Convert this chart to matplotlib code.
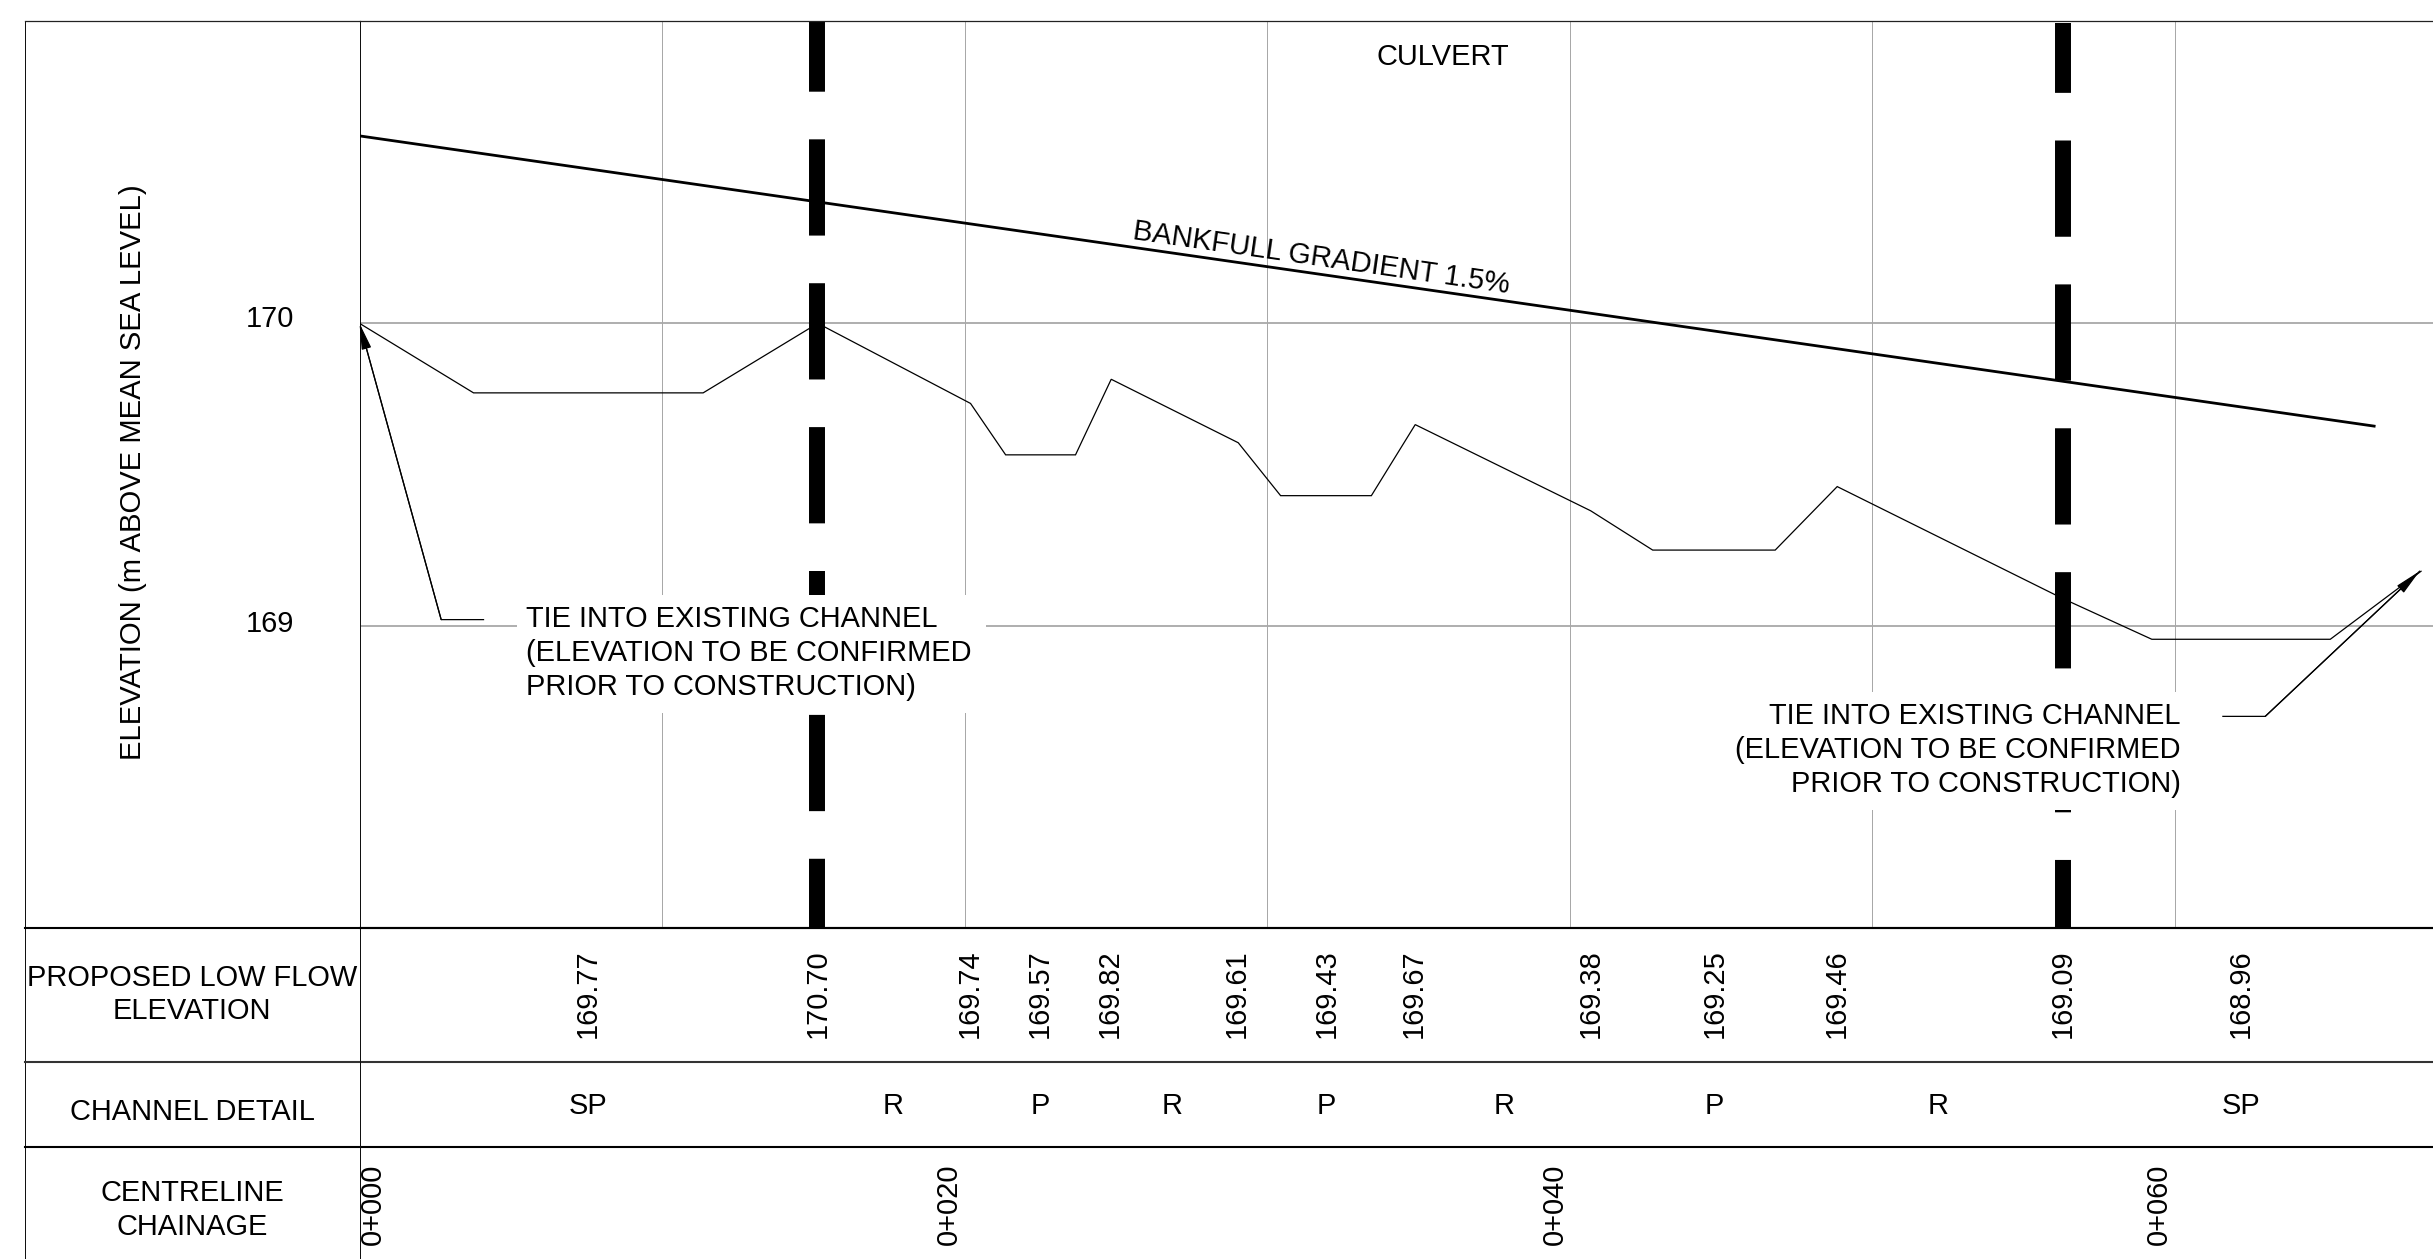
import matplotlib
matplotlib.use("Agg")
import matplotlib.pyplot as plt
from matplotlib.patches import Rectangle
from matplotlib.transforms import ScaledTranslation

plt.rcParams['font.family'] = ['Liberation Sans', 'DejaVu Sans']
plt.rcParams['lines.scale_dashes'] = False

# ---- data ----
low_flow_chain = [0, 3.77, 11.36, 15.15, 20.2, 21.36, 23.67, 24.85, 29.05, 30.45, 33.45,
                  34.9, 40.7, 42.75, 46.8, 48.85, 56.3, 59.25, 65.15, 68.15]
low_flow_elev = [170.0, 169.77, 169.77, 170.0, 169.735, 169.565, 169.565, 169.815, 169.605, 169.43, 169.43,
                 169.665, 169.38, 169.25, 169.25, 169.46, 169.09, 168.955, 168.955, 169.18]
bankfull_chain = [0, 66.6]
bankfull_elev = [170.62, 169.66]
culvert_chain = [15.12, 56.3]
culvert_top = [171.0, 170.992]
culvert_offset = [18.4, 19.0]
elev_label_chain = [7.56, 15.15, 20.18, 22.49, 24.8, 29.0, 31.97, 34.85, 40.7, 44.8, 48.85, 56.3, 62.2]
elev_labels = ['169.77', '170.70', '169.74', '169.57', '169.82', '169.61', '169.43', '169.67',
               '169.38', '169.25', '169.46', '169.09', '168.96']
detail_chain = [7.56, 17.65, 22.49, 26.85, 31.97, 37.85, 44.8, 52.2, 62.2]
detail_labels = ['SP', 'R', 'P', 'R', 'P', 'R', 'P', 'R', 'SP']
station_chain = [0.45, 19.5, 39.5, 59.5]
station_labels = ['0+000', '0+020', '0+040', '0+060']
grid_chain = [10, 20, 30, 40, 50, 60]
elev_ticks = [169, 170]
elev_tick_lift = [3.4, 5.6]
tie_left_chain = [4.1, 2.7, 0]
tie_left_elev = [169.02, 169.02, 170.0]
tie_right_chain = [61.6, 63.0, 68.1]
tie_right_elev = [168.70, 168.70, 169.18]
tie_text = 'TIE INTO EXISTING CHANNEL\n(ELEVATION TO BE CONFIRMED\nPRIOR TO CONSTRUCTION)'

W, H = 2433, 1259
FS = 20.85
GREY = '#a8a8a8'
fig = plt.figure(figsize=(W / 100, H / 100), dpi=100, facecolor='white')

# pixel-space layer for the frame and the row headers
frame = fig.add_axes([0, 0, 1, 1], zorder=0)
frame.set_xlim(0, W)
frame.set_ylim(H, 0)
frame.axis('off')

# ---- main profile ----
ax = fig.add_axes([359.5 / W, (H - 928) / H, (W - 359.5) / W, (928 - 21) / H], zorder=2)
ax.patch.set_alpha(0)
ax.set_xlim(0, (W - 359.5) / 30.25)
ax.set_ylim(168, 171)
ax.set_xticks(grid_chain)
ax.set_xticklabels([])
ax.set_yticks(elev_ticks)
ax.set_yticklabels([str(v) for v in elev_ticks], fontsize=FS, color='black')
ax.tick_params(axis='both', length=0)
ax.tick_params(axis='y', pad=47)
for lab, lift in zip(ax.get_yticklabels(), elev_tick_lift):
    lab.set_transform(lab.get_transform() + ScaledTranslation(0, lift / 72, fig.dpi_scale_trans))
ax.grid(axis='x', color=GREY, lw=0.72, zorder=1)
ax.grid(axis='y', color=GREY, lw=1.3, zorder=1)
ax.set_axisbelow(True)
ax.spines['right'].set_visible(False)
ax.spines['top'].set_color('#222222')
ax.spines['top'].set_linewidth(0.9)
ax.spines['left'].set_color('#111111')
ax.spines['left'].set_linewidth(0.72)
ax.spines['bottom'].set_color('black')
ax.spines['bottom'].set_linewidth(1.5)

for cx, ct, off in zip(culvert_chain, culvert_top, culvert_offset):
    ax.plot([cx, cx], [ct, 168], color='black', lw=11.5, solid_capstyle='butt',
            dash_capstyle='butt', ls=(off, (69.3, 34.3)), zorder=2)

# white masks behind the notes
ax.add_patch(Rectangle((5.2, 168.71), 15.5, 0.39, facecolor='white', edgecolor='none', zorder=3))
ax.add_patch(Rectangle((45.2, 168.39), 16.2, 0.39, facecolor='white', edgecolor='none', zorder=3))

ax.plot(low_flow_chain, low_flow_elev, color='black', lw=0.9, zorder=4, solid_joinstyle='miter')
ax.plot(bankfull_chain, bankfull_elev, color='black', lw=2.0, zorder=4)

for cs, es in ((tie_left_chain, tie_left_elev), (tie_right_chain, tie_right_elev)):
    ax.plot(cs, es, color='black', lw=0.9, zorder=4, solid_joinstyle='miter')
    ax.annotate('', xy=(cs[-1], es[-1]), xytext=(cs[-2], es[-2]), zorder=5,
                arrowprops=dict(arrowstyle='-|>,head_length=1.6,head_width=0.3', mutation_scale=10,
                                shrinkA=0, shrinkB=0, lw=0.9, color='black'))

ax.text(5.49, 168.91, tie_text, fontsize=FS, ha='left', va='center', zorder=6, linespacing=1.27)
ax.text(60.2, 168.59, tie_text, fontsize=FS, ha='right', va='center', multialignment='right',
        zorder=6, linespacing=1.27)
ax.text(35.8, 170.882, 'CULVERT', fontsize=FS, ha='center', va='center', zorder=6)
ax.text(31.8, 170.215, 'BANKFULL GRADIENT 1.5%', fontsize=FS, ha='center', va='center',
        rotation=-8.2, rotation_mode='anchor', zorder=6)

# ---- table rows (y in pixels) ----
tab = fig.add_axes([359.5 / W, 0, (W - 359.5) / W, (H - 928) / H], zorder=1, sharex=ax)
tab.patch.set_alpha(0)
tab.set_ylim(H, 928)
tab.tick_params(axis='both', length=0, labelbottom=False, labelleft=False)
for side in ('top', 'right', 'bottom'):
    tab.spines[side].set_visible(False)
tab.spines['left'].set_color('#111111')
tab.spines['left'].set_linewidth(0.72)

for x, s in zip(elev_label_chain, elev_labels):
    tab.text(x, 994, s, fontsize=FS, rotation=90, ha='center', va='center')
for x, s in zip(detail_chain, detail_labels):
    tab.text(x, 1106, s, fontsize=FS, ha='center', va='center')
for x, s in zip(station_chain, station_labels):
    tab.text(x, 1204.5, s, fontsize=FS, rotation=90, ha='center', va='center')

# ---- frame + headers ----
frame.plot([25, 25], [21, H], color='#111111', lw=0.72)
frame.plot([25, 360], [21, 21], color='#222222', lw=0.9)
frame.plot([25, W], [928, 928], color='black', lw=1.5)
frame.plot([25, W], [1061.7, 1061.7], color='#333333', lw=1.5)
frame.plot([25, W], [1147.3, 1147.3], color='black', lw=1.5)
frame.text(192, 994.5, 'PROPOSED LOW FLOW\nELEVATION', fontsize=FS, ha='center', va='center', linespacing=1.27)
frame.text(192, 1112, 'CHANNEL DETAIL', fontsize=FS, ha='center', va='center')
frame.text(192, 1210, 'CENTRELINE\nCHAINAGE', fontsize=FS, ha='center', va='center', linespacing=1.27)
frame.text(133, 472, 'ELEVATION (m ABOVE MEAN SEA LEVEL)', fontsize=21.1, rotation=90, ha='center', va='center')

fig.savefig('out.png', dpi=100)
